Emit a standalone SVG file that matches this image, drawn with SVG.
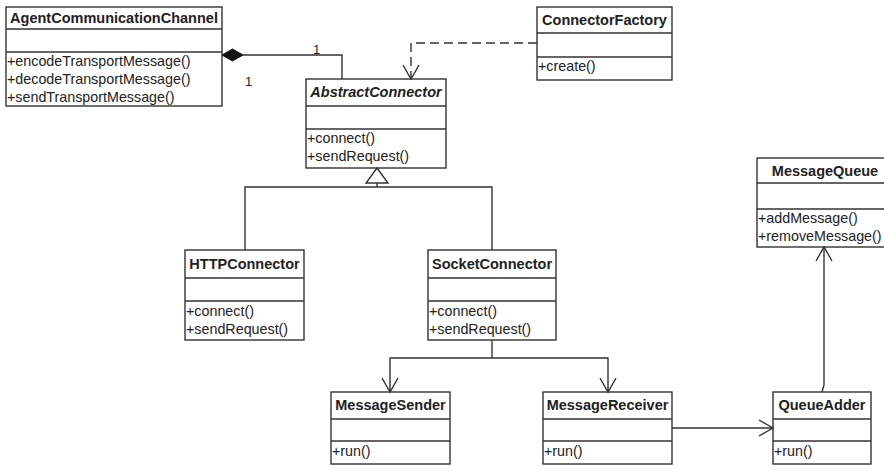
<svg xmlns="http://www.w3.org/2000/svg" width="884" height="470" viewBox="0 0 884 470">
  <defs>
    <style>
      .box { fill: #ffffff; stroke: #333333; stroke-width: 1.4; }
      .sep { stroke: #333333; stroke-width: 1.4; }
      .title { font-family: "Liberation Sans", Arial, sans-serif; font-size: 14.5px; font-weight: bold; fill: #222222; text-anchor: middle; }
      .italic { font-style: italic; }
      .op { font-family: "Liberation Sans", Arial, sans-serif; font-size: 14.3px; fill: #222222; }
      .mult { font-family: "Liberation Sans", Arial, sans-serif; font-size: 13px; fill: #222222; }
      .edge { fill: none; stroke: #333333; stroke-width: 1.4; }
      .dashed { stroke-dasharray: 9 5; }
    </style>
    <marker id="open" viewBox="0 0 20 20" refX="16" refY="10" markerWidth="20" markerHeight="20" markerUnits="userSpaceOnUse" orient="auto">
      <path d="M2,2 L16,10 L2,18" fill="none" stroke="#333333" stroke-width="1.4"/>
    </marker>
  </defs>

  <!-- class boxes -->
  <g id="AgentCommunicationChannel">
    <rect class="box" x="6" y="7" width="216" height="99"/>
    <line class="sep" x1="6" y1="29" x2="222" y2="29"/>
    <line class="sep" x1="6" y1="52" x2="222" y2="52"/>
    <text class="title" x="114" y="23">AgentCommunicationChannel</text>
    <text class="op" x="7" y="66">+encodeTransportMessage()</text>
    <text class="op" x="7" y="84">+decodeTransportMessage()</text>
    <text class="op" x="7" y="102">+sendTransportMessage()</text>
  </g>

  <g id="ConnectorFactory">
    <rect class="box" x="537" y="7" width="135" height="73"/>
    <line class="sep" x1="537" y1="33" x2="672" y2="33"/>
    <line class="sep" x1="537" y1="57" x2="672" y2="57"/>
    <text class="title" x="604.5" y="25">ConnectorFactory</text>
    <text class="op" x="538" y="71">+create()</text>
  </g>

  <g id="AbstractConnector">
    <rect class="box" x="306" y="79" width="140" height="89"/>
    <line class="sep" x1="306" y1="106" x2="446" y2="106"/>
    <line class="sep" x1="306" y1="129" x2="446" y2="129"/>
    <text class="title italic" x="376" y="97">AbstractConnector</text>
    <text class="op" x="307" y="143">+connect()</text>
    <text class="op" x="307" y="161">+sendRequest()</text>
  </g>

  <g id="HTTPConnector">
    <rect class="box" x="185" y="250" width="119" height="90"/>
    <line class="sep" x1="185" y1="278" x2="304" y2="278"/>
    <line class="sep" x1="185" y1="301" x2="304" y2="301"/>
    <text class="title" x="244.5" y="269">HTTPConnector</text>
    <text class="op" x="186" y="316">+connect()</text>
    <text class="op" x="186" y="334">+sendRequest()</text>
  </g>

  <g id="SocketConnector">
    <rect class="box" x="428" y="250" width="128" height="90"/>
    <line class="sep" x1="428" y1="278" x2="556" y2="278"/>
    <line class="sep" x1="428" y1="301" x2="556" y2="301"/>
    <text class="title" x="492" y="269">SocketConnector</text>
    <text class="op" x="429" y="316">+connect()</text>
    <text class="op" x="429" y="334">+sendRequest()</text>
  </g>

  <g id="MessageQueue">
    <rect class="box" x="757" y="158" width="136" height="89"/>
    <line class="sep" x1="757" y1="183" x2="893" y2="183"/>
    <line class="sep" x1="757" y1="209" x2="893" y2="209"/>
    <text class="title" x="825" y="176">MessageQueue</text>
    <text class="op" x="758" y="223">+addMessage()</text>
    <text class="op" x="758" y="241">+removeMessage()</text>
  </g>

  <g id="MessageSender">
    <rect class="box" x="331" y="392" width="119" height="72"/>
    <line class="sep" x1="331" y1="419" x2="450" y2="419"/>
    <line class="sep" x1="331" y1="441" x2="450" y2="441"/>
    <text class="title" x="390.5" y="410">MessageSender</text>
    <text class="op" x="332" y="456">+run()</text>
  </g>

  <g id="MessageReceiver">
    <rect class="box" x="543" y="392" width="129" height="72"/>
    <line class="sep" x1="543" y1="419" x2="672" y2="419"/>
    <line class="sep" x1="543" y1="441" x2="672" y2="441"/>
    <text class="title" x="607.5" y="410">MessageReceiver</text>
    <text class="op" x="544" y="456">+run()</text>
  </g>

  <g id="QueueAdder">
    <rect class="box" x="773" y="392" width="98" height="72"/>
    <line class="sep" x1="773" y1="419" x2="871" y2="419"/>
    <line class="sep" x1="773" y1="441" x2="871" y2="441"/>
    <text class="title" x="822" y="410">QueueAdder</text>
    <text class="op" x="774" y="456">+run()</text>
  </g>

  <!-- relationships -->
  <g id="connectors">
    <!-- composition: AgentCommunicationChannel owns AbstractConnector -->
    <path class="edge" d="M243,55 H342 V79"/>
    <path d="M222,55 L232.5,49 L243,55 L232.5,61 Z" fill="#111111" stroke="#111111" stroke-width="1"/>
    <text class="mult" x="313" y="54">1</text>
    <text class="mult" x="245" y="86">1</text>

    <!-- dependency: ConnectorFactory creates AbstractConnector -->
    <path class="edge dashed" d="M537,43 H411 V79" marker-end="url(#open)"/>

    <!-- generalization -->
    <path class="edge" d="M245,250 V187 H492 V250"/>
    <line class="edge" x1="377" y1="183" x2="377" y2="187"/>
    <path d="M377,168 L388,183 L366,183 Z" fill="#ffffff" stroke="#333333" stroke-width="1.4"/>

    <!-- SocketConnector uses sender and receiver -->
    <path class="edge" d="M492,340 V358"/>
    <path class="edge" d="M492,358 H390 V392" marker-end="url(#open)"/>
    <path class="edge" d="M492,358 H608 V392" marker-end="url(#open)"/>

    <!-- MessageReceiver to QueueAdder -->
    <path class="edge" d="M672,428 H773" marker-end="url(#open)"/>

    <!-- QueueAdder to MessageQueue -->
    <path class="edge" d="M822,392 L824,385 V247" marker-end="url(#open)"/>
  </g>
</svg>
